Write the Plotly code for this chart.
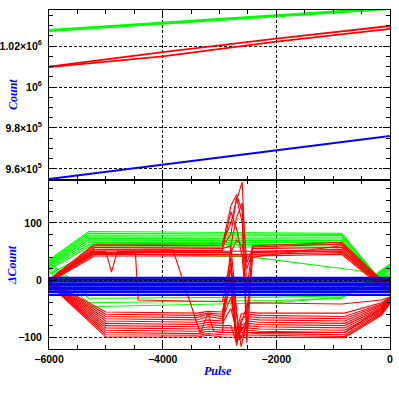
import plotly.graph_objects as go
from plotly.subplots import make_subplots

# ---------------- data ----------------
# top panel (Count vs Pulse)
top_x = [-6000, -4000, -2000, 0]
top_green_a = [1027800, 1031400, 1035000, 1038600]
top_green_b = [1027400, 1030900, 1034500, 1038100]
top_red_a = [1009900, 1017000, 1023600, 1029800]
top_red_b = [1009700, 1015000, 1022200, 1028400]
top_blue = [955100, 962100, 969100, 976100]

top_tickvals = [960000, 980000, 1000000, 1020000]
top_ticktext = ["9.6×10<sup>5</sup>", "9.8×10<sup>5</sup>", "10<sup>6</sup>", "1.02×10<sup>6</sup>"]

# bottom panel (ΔCount vs Pulse)
green_hi_x = [-6000, -5300, -850, -250, 0]
green_hi_y = [
    [35, 85, 82, 10, 28],
    [33, 82, 80, 8, 27],
    [31, 79, 78, 7, 26],
    [29, 76, 75, 6, 25],
    [27, 73, 72, 5, 24],
    [25, 70, 69, 4, 23],
    [23, 66, 66, 3, 22],
    [21, 62, 62, 2, 21],
    [18, 58, 58, 1, 20],
]
green_drift_x = [-6000, -5300, -2500, -600, 0]
green_drift_y = [10, 47, 41, 17, 5]

green_lo_x = [-6000, -5300, -2000, -850, -250, 0]
green_lo_y = [
    [30, -22, -20, -18, -5, 10],
    [27, -27, -26, -24, -3, 12],
    [24, -32, -30, -28, 0, 15],
    [20, -40, -36, -32, 3, 18],
    [16, -47, -40, -30, 6, 20],
]

red_hi_x = [-6000, -5200, -2950, -2800, -2700, -2600, -2520, -2420, -850, -200, 0]
red_hi_y = [
    [0, 63, 64, 100, 140, 172, -20, 60, 66, 5, -5],
    [0, 60, 61, 130, 150, 120, -90, 58, 63, 3, -8],
    [-2, 57, 58, 80, 145, 100, -110, 40, 60, 2, -10],
    [-2, 54, 55, 60, 110, 135, 30, 55, 57, 0, -12],
    [-3, 51, 52, 120, 90, 40, -60, 50, 54, -2, -15],
    [-3, 48, 48, 48, 70, 60, 20, 48, 51, -4, -18],
    [-4, 45, 45, 45, 45, 45, 45, 45, 48, -6, -20],
    [-4, 42, 42, 42, 42, 42, 42, 42, 45, -8, -22],
]

red_lo_x = [-6000, -5000, -3400, -3200, -2950, -2800, -2700, -2620, -2500, -2300, -800, -150, 0]
red_lo_y = [
    [-2, -56, -58, -55, -56, 20, -90, -60, -56, -58, -58, -40, -30],
    [-2, -60, -62, -58, -60, -10, -110, -70, -60, -62, -64, -42, -31],
    [-3, -64, -66, -60, -64, 30, -60, -117, -64, -66, -68, -44, -32],
    [-3, -68, -70, -64, -68, -30, -100, -90, -68, -70, -72, -46, -33],
    [-4, -72, -74, -70, -72, 0, -115, -80, -72, -74, -76, -48, -34],
    [-4, -76, -78, -74, -76, -50, -90, -100, -76, -78, -80, -50, -35],
    [-5, -80, -82, -78, -80, -80, -110, -85, -80, -82, -84, -52, -36],
    [-5, -84, -86, -82, -84, -84, -84, -84, -84, -86, -88, -54, -37],
    [-6, -88, -90, -86, -88, -88, -88, -88, -88, -90, -92, -56, -38],
    [-6, -92, -94, -90, -92, -92, -92, -92, -92, -94, -96, -58, -39],
    [-7, -96, -97, -94, -96, -96, -96, -96, -96, -97, -99, -60, -40],
    [-7, -100, -100, -97, -100, -100, -100, -100, -100, -100, -101, -62, -41],
]

red_dip_x = [-6000, -5200, -5000, -4900, -4800, -850, -200, 0]
red_dip_y = [-2, 50, 50, 14, 50, 51, -5, -20]

red_drop_x = [-6000, -5200, -4480, -4430, -2950, -2800, -2700, -2500, -850, -150, 0]
red_drop_y = [0, 47, 47, -35, -38, 40, -100, -40, -42, -35, -30]

red_diag_x = [-6000, -5200, -3820, -3340, -3200, -3100, -2950, -2800, -2650, -2500, -800, -150, 0]
red_diag_y = [0, 53, 53, -93, -58, -90, -92, 60, -105, -92, -92, -50, -32]

blue_x = [-6000, -4000, -2000, 0]
blue_y = [
    [4, 4, 4, 4],
    [1, 1, 1.5, 1.5],
    [-3, -3, -3, -3],
    [-7, -7, -7, -7],
    [-10, -10, -10, -10],
    [-14, -14, -14, -14],
    [-17, -17, -17, -17],
    [-21, -21, -21, -21],
    [-26, -26, -26, -26],
]
black_x = [-6000, 0]
black_y = [0, 0]

# ---------------- figure ----------------
W, H = 399, 399
ML, MR, MT, MB = 49, 9, 10, 50
PW, PH = W - ML - MR, H - MT - MB
split = (349 - 180) / PH

fig = make_subplots(rows=2, cols=1, shared_xaxes=True, vertical_spacing=0,
                    row_heights=[1 - split, split])

GREEN, RED, BLUE = "#00ff00", "#ff0000", "#0000ff"


def add(x, y, color, row, width=1.2):
    fig.add_trace(go.Scatter(x=x, y=y, mode="lines", line=dict(color=color, width=width),
                             showlegend=False, hoverinfo="skip"), row=row, col=1)


# top
add(top_x, top_green_a, GREEN, 1, 2.2)
add(top_x, top_green_b, GREEN, 1, 2.2)
add(top_x, top_red_a, RED, 1, 1.8)
add(top_x, top_red_b, RED, 1, 1.8)
add(top_x, top_blue, BLUE, 1, 2)

# bottom
for yy in green_hi_y:
    add(green_hi_x, yy, GREEN, 2, 1.1)
add(green_drift_x, green_drift_y, GREEN, 2, 1.1)
for yy in green_lo_y:
    add(green_lo_x, yy, GREEN, 2, 1.1)
for yy in red_hi_y:
    add(red_hi_x, yy, RED, 2, 1.1)
for yy in red_lo_y:
    add(red_lo_x, yy, RED, 2, 1.1)
add(red_dip_x, red_dip_y, RED, 2, 1.1)
add(red_drop_x, red_drop_y, RED, 2, 1.1)
add(red_diag_x, red_diag_y, RED, 2, 1.1)
for yy in blue_y:
    add(blue_x, yy, BLUE, 2, 2.1)
add(black_x, black_y, "#000000", 2, 1.2)

tickfont = dict(family="Liberation Sans", size=10.5, color="black", weight="bold")
common_axis = dict(showline=True, linecolor="black", linewidth=1, mirror="ticks",
                   ticks="inside", tickcolor="black", ticklen=7, tickwidth=1,
                   showgrid=True, gridcolor="black", gridwidth=1, griddash="3px,2px",
                   zeroline=False, tickfont=tickfont, automargin=False)

fig.update_xaxes(range=[-6000, 0], tickmode="linear", tick0=-6000, dtick=2000,
                 minor=dict(ticks="inside", dtick=500, tick0=0, ticklen=4, tickcolor="black", showgrid=False),
                 **common_axis)
fig.update_xaxes(showticklabels=False, row=1, col=1)

fig.update_yaxes(range=[954600, 1037600], tickmode="array", tickvals=top_tickvals, ticktext=top_ticktext,
                 minor=dict(ticks="inside", dtick=5000, tick0=0, ticklen=4, tickcolor="black", showgrid=False),
                 ticklabelstandoff=4, row=1, col=1, **common_axis)
fig.update_yaxes(range=[-121, 175.4], tickmode="array", tickvals=[-100, 0, 100], ticktext=["−100", "0", "100"],
                 minor=dict(ticks="inside", dtick=20, tick0=0, ticklen=4, tickcolor="black", showgrid=False),
                 ticklabelstandoff=4, row=2, col=1, **common_axis)

titlefont = dict(family="Liberation Serif", size=12, color="#0000ff", style="italic", weight="bold")


def px2paper(px, py):
    return (px - ML) / PW, (H - MB - py) / PH


ax, ay = px2paper(13, 95)
fig.add_annotation(x=ax, y=ay, xref="paper", yref="paper", text="Count", textangle=-90,
                   showarrow=False, font=titlefont, xanchor="center", yanchor="middle")
ax, ay = px2paper(12, 265)
fig.add_annotation(x=ax, y=ay, xref="paper", yref="paper", text="ΔCount", textangle=-90,
                   showarrow=False, font=titlefont, xanchor="center", yanchor="middle")
ax, ay = px2paper(218, 371)
fig.add_annotation(x=ax, y=ay, xref="paper", yref="paper", text="Pulse",
                   showarrow=False, font=titlefont, xanchor="center", yanchor="middle")

fig.update_layout(width=W, height=H, margin=dict(l=ML, r=MR, t=MT, b=MB, autoexpand=False),
                  paper_bgcolor="white", plot_bgcolor="white", showlegend=False)

fig.write_html("out.html", config={"displayModeBar": False},
               post_script="document.body.style.margin='0px';")
